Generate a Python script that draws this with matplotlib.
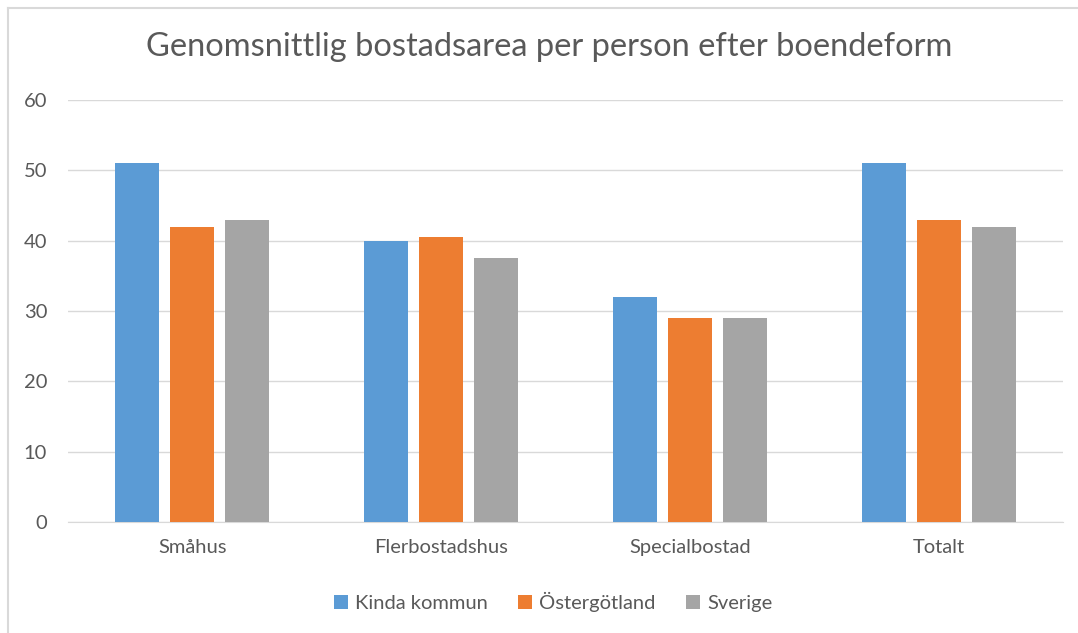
import matplotlib
matplotlib.use("Agg")
import matplotlib.pyplot as plt
import numpy as np
from matplotlib.lines import Line2D

plt.rcParams['font.family'] = ['Lato', 'DejaVu Sans']

categories = ["Småhus", "Flerbostadshus", "Specialbostad", "Totalt"]
series_names = ["Kinda kommun", "Östergötland", "Sverige"]
kinda = [51, 40, 32, 51]
ostergotland = [42, 40.5, 29, 43]
sverige = [43, 37.5, 29, 42]
colors = ["#5B9BD5", "#ED7D31", "#A5A5A5"]
yticks = [0, 10, 20, 30, 40, 50, 60]
title = "Genomsnittlig bostadsarea per person efter boendeform"

W, H = 1078, 633
fig = plt.figure(figsize=(W / 100, H / 100), dpi=100)
# outer chart border (top and left visible)
fig.add_artist(Line2D([7.5 / W, 1], [1 - 7.5 / H, 1 - 7.5 / H], transform=fig.transFigure,
                      color="#D9D9D9", linewidth=1.5))
fig.add_artist(Line2D([7.5 / W, 7.5 / W], [0, 1 - 7.5 / H], transform=fig.transFigure,
                      color="#D9D9D9", linewidth=1.5))

ax = fig.add_axes([68 / W, (H - 522) / H, (1063 - 68) / W, (522 - 100) / H])

x = np.arange(len(categories))
w = 0.177
offsets = [-1.25 * w, 0, 1.25 * w]
for vals, name, c, off in zip([kinda, ostergotland, sverige], series_names, colors, offsets):
    ax.bar(x + off, vals, width=w, color=c, label=name, zorder=3)

ax.set_xlim(-0.5, len(categories) - 0.5)
ax.set_ylim(0, 60)
ax.set_yticks(yticks)
ax.set_xticks(x)
ax.set_xticklabels(categories)
ax.yaxis.grid(True, color="#D9D9D9", linewidth=1, zorder=0)
for s in ["top", "right", "left"]:
    ax.spines[s].set_visible(False)
ax.spines["bottom"].set_color("#D9D9D9")
ax.tick_params(axis="both", length=0, labelsize=14.5, labelcolor="#595959")
ax.tick_params(axis="y", pad=15)
ax.tick_params(axis="x", pad=12)

fig.text(549 / W, 1 - 47 / H, title, ha="center", va="center", fontsize=23.5, color="#595959")

handles, labels = ax.get_legend_handles_labels()
fig.legend(handles, labels, loc="center", bbox_to_anchor=(553 / W, 1 - 602 / H), ncol=3, frameon=False,
           fontsize=14.5, labelcolor="#595959", handlelength=0.7, handleheight=0.7,
           handletextpad=0.35, columnspacing=1.5)

fig.savefig("out.png", dpi=100)
